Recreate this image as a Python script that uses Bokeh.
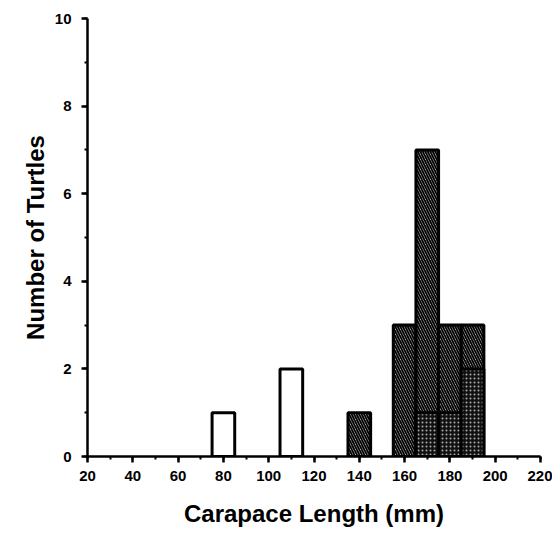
from bokeh.plotting import figure
from bokeh.models import Range1d, SingleIntervalTicker
from bokeh.embed import file_html
from bokeh.resources import INLINE

# Data (carapace length bins, 10 mm wide, given by centre)
open_centers = [80, 110]
open_counts = [1, 2]
hatch_centers = [140, 160, 170, 180, 190]
hatch_counts = [1, 3, 7, 3, 3]
dot_centers = [170, 180, 190]
dot_counts = [1, 1, 2]
bin_width = 10

p = figure(width=552, height=529, output_backend="svg", toolbar_location=None,
           x_range=Range1d(20, 220), y_range=Range1d(0, 10),
           min_border_left=87, min_border_right=12, min_border_top=18,
           min_border_bottom=71)
p.outline_line_color = None
p.xgrid.visible = False
p.ygrid.visible = False
p.background_fill_color = "white"

# open bars
p.vbar(x=open_centers, top=open_counts, width=bin_width, bottom=0,
       fill_color="white", line_color="black", line_width=3)
# hatched bars
p.vbar(x=hatch_centers, top=hatch_counts, width=bin_width, bottom=0,
       fill_color="#d8d8d8", hatch_pattern="left_diagonal_line",
       hatch_color="black", hatch_scale=5, hatch_weight=1.8,
       line_color="black", line_width=3)
# dotted overlay bars
p.vbar(x=dot_centers, top=dot_counts, width=bin_width, bottom=0,
       fill_color="#111111", hatch_pattern="dot",
       hatch_color="#aaaaaa", hatch_scale=4, hatch_weight=1,
       line_color="black", line_width=3)

font = "Liberation Sans"
for ax in (p.xaxis[0], p.yaxis[0]):
    ax.axis_line_width = 2.5
    ax.axis_line_color = "black"
    ax.major_tick_line_width = 2.5
    ax.minor_tick_line_width = 2
    ax.major_tick_in = 0
    ax.minor_tick_in = 0
    ax.major_tick_out = 6
    ax.minor_tick_out = 3
    ax.major_label_text_font = font
    ax.major_label_text_font_style = "bold"
    ax.major_label_text_font_size = "15px"
    ax.major_label_text_color = "black"
    ax.axis_label_text_font = font
    ax.axis_label_text_font_style = "bold"
    ax.axis_label_text_font_size = "24px"
    ax.axis_label_text_color = "black"

p.xaxis.ticker = SingleIntervalTicker(interval=20, num_minor_ticks=2)
p.yaxis.ticker = SingleIntervalTicker(interval=2, num_minor_ticks=2)
p.xaxis.axis_label = "Carapace Length (mm)"
p.yaxis.axis_label = "Number of Turtles"
p.xaxis.major_label_standoff = 8
p.xaxis.axis_label_standoff = 16
p.yaxis.major_label_standoff = 10
p.yaxis.axis_label_standoff = 3

open("out.html", "w").write(file_html(p, INLINE))
